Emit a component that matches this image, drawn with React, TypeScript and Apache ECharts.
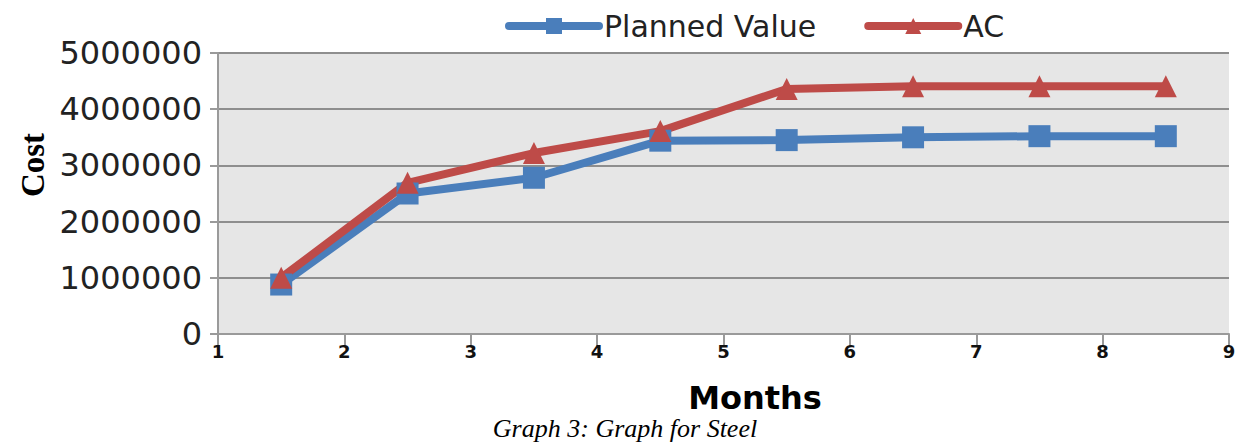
import React, { useEffect, useRef } from "react";
import * as echarts from "echarts";

const months = [1.5, 2.5, 3.5, 4.5, 5.5, 6.5, 7.5, 8.5];
const plannedValue = [880000, 2500000, 2780000, 3440000, 3450000, 3500000, 3520000, 3520000];
const actualCost = [1000000, 2690000, 3220000, 3610000, 4360000, 4410000, 4410000, 4410000];
const xTicks = [1, 2, 3, 4, 5, 6, 7, 8, 9];

export default function App() {
  const ref = useRef<HTMLDivElement>(null);
  useEffect(() => {
    if (!ref.current) return;
    const chart = echarts.init(ref.current, null, { renderer: "svg" });
    const font = "'DejaVu Sans', sans-serif";
    const serif = "'Liberation Serif', 'Times New Roman', serif";
    chart.setOption({
      animation: false,
      backgroundColor: "#ffffff",
      grid: {
        left: 218,
        right: 12,
        top: 53,
        bottom: 108,
        show: true,
        backgroundColor: "#e6e6e6",
        borderWidth: 0,
      },
      legend: {
        top: 6,
        left: 500,
        itemWidth: 90,
        itemHeight: 20,
        itemGap: 48,
        lineStyle: { width: 8, cap: "round" },
        textStyle: { fontSize: 30, color: "#222", fontFamily: font },
        data: ["Planned Value", "AC"],
      },
      xAxis: {
        type: "value",
        min: xTicks[0],
        max: xTicks[xTicks.length - 1],
        interval: 1,
        axisLine: { show: true, lineStyle: { color: "#9a9a9a", width: 2 } },
        axisTick: { show: true, length: 12, lineStyle: { color: "#9a9a9a", width: 2 } },
        axisLabel: { fontSize: 18, fontWeight: "bold", color: "#111", margin: 8, fontFamily: font },
        splitLine: { show: false },
      },
      yAxis: {
        type: "value",
        min: 0,
        max: 5000000,
        interval: 1000000,
        axisLine: { show: true, lineStyle: { color: "#9a9a9a", width: 2 } },
        axisTick: { show: true, length: 8, lineStyle: { color: "#9a9a9a", width: 2 } },
        axisLabel: { fontSize: 32, color: "#222", margin: 16, fontFamily: font, formatter: (v: number) => String(v) },
        splitLine: { show: true, lineStyle: { color: "#8e8e8e", width: 2 } },
      },
      graphic: [
        {
          type: "text",
          x: 755,
          y: 398,
          style: { text: "Months", font: `bold 32px ${font}`, fill: "#000", align: "center", verticalAlign: "middle" },
        },
        {
          type: "text",
          x: 33,
          y: 165,
          rotation: Math.PI / 2,
          style: { text: "Cost", font: `bold 33px ${serif}`, fill: "#000", align: "center", verticalAlign: "middle" },
        },
        {
          type: "text",
          x: 625,
          y: 428,
          style: { text: "Graph 3: Graph for Steel", font: `italic 26px ${serif}`, fill: "#000", align: "center", verticalAlign: "middle" },
        },
      ],
      series: [
        {
          name: "Planned Value",
          type: "line",
          data: months.map((m, i) => [m, plannedValue[i]]),
          symbol: "rect",
          symbolSize: 22,
          lineStyle: { width: 8, color: "#4a7ebb" },
          itemStyle: { color: "#4a7ebb" },
        },
        {
          name: "AC",
          type: "line",
          data: months.map((m, i) => [m, actualCost[i]]),
          symbol: "triangle",
          symbolSize: 22,
          lineStyle: { width: 8, color: "#be4b48" },
          itemStyle: { color: "#be4b48" },
        },
      ],
    });
    return () => chart.dispose();
  }, []);
  return <div ref={ref} style={{ width: 1241, height: 442, position: "absolute", left: 0, top: 0 }} />;
}
